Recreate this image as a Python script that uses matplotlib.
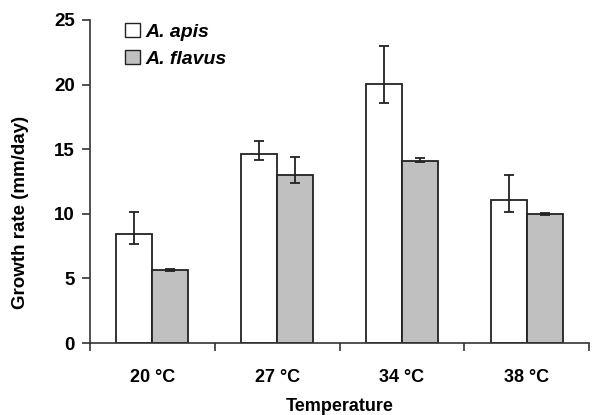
import matplotlib
matplotlib.use("Agg")
import matplotlib.pyplot as plt
from matplotlib.patches import Patch
import numpy as np

categories = ["20 °C", "27 °C", "34 °C", "38 °C"]
apis = [8.45, 14.63, 20.05, 11.08]
apis_err_low = [0.77, 0.45, 1.49, 0.93]
apis_err_high = [1.70, 1.02, 2.95, 1.92]
flavus = [5.67, 13.02, 14.10, 9.98]
flavus_err_low = [0.08, 0.65, 0.1, 0.08]
flavus_err_high = [0.08, 1.37, 0.2, 0.08]

plt.rcParams['font.family'] = ['Liberation Sans', 'DejaVu Sans']

fig = plt.figure(figsize=(5.96, 4.15), dpi=100)
ax = fig.add_axes([90/596, 1-343/415, (589-90)/596, (343-20)/415])

x = np.arange(len(categories))
w = 0.289
ec = "#222222"
ax.bar(x - w/2, apis, w, color="white", edgecolor=ec, linewidth=1.3,
       yerr=[apis_err_low, apis_err_high], capsize=3.8,
       error_kw=dict(ecolor=ec, elinewidth=1.3, capthick=1.3), zorder=2)
ax.bar(x + w/2, flavus, w, color="#c0c0c0", edgecolor=ec, linewidth=1.3,
       yerr=[flavus_err_low, flavus_err_high], capsize=3.8,
       error_kw=dict(ecolor=ec, elinewidth=1.3, capthick=1.3), zorder=2)

ax.set_xlim(-0.5, 3.5)
ax.set_ylim(0, 25)
ax.set_yticks([0, 5, 10, 15, 20, 25])
ax.set_xticks(x)
ax.set_xticklabels(categories, fontsize=13, fontweight="bold")
ax.set_xticks(np.arange(-0.5, 4.0, 1.0), minor=True)
ax.tick_params(axis="x", which="major", length=0, pad=19)
ax.tick_params(axis="x", which="minor", length=6, width=1.2, color="#333333")
ax.tick_params(axis="y", length=6, width=1.2, color="#333333", labelsize=13.5, pad=5)
for lbl in ax.get_yticklabels():
    lbl.set_fontweight("bold")
for s in ["top", "right"]:
    ax.spines[s].set_visible(False)
for s in ["left", "bottom"]:
    ax.spines[s].set_linewidth(1.2)
    ax.spines[s].set_color("#333333")

ax.set_xlabel("Temperature", fontsize=13, fontweight="bold", labelpad=8)
ax.set_ylabel("Growth rate (mm/day)", fontsize=13.5, fontweight="bold")
ax.yaxis.set_label_coords(-0.122, 0.405)

handles = [Patch(facecolor="white", edgecolor=ec, linewidth=1.0),
           Patch(facecolor="#c0c0c0", edgecolor=ec, linewidth=1.0)]
leg = ax.legend(handles, ["A. apis", "A. flavus"], loc="upper left",
                bbox_to_anchor=(0.035, 1.045), frameon=False,
                prop=dict(size=14, weight="bold", style="italic"),
                handlelength=0.75, handleheight=0.75, handletextpad=0.3,
                labelspacing=0.45)

fig.savefig("out.png", dpi=100)
